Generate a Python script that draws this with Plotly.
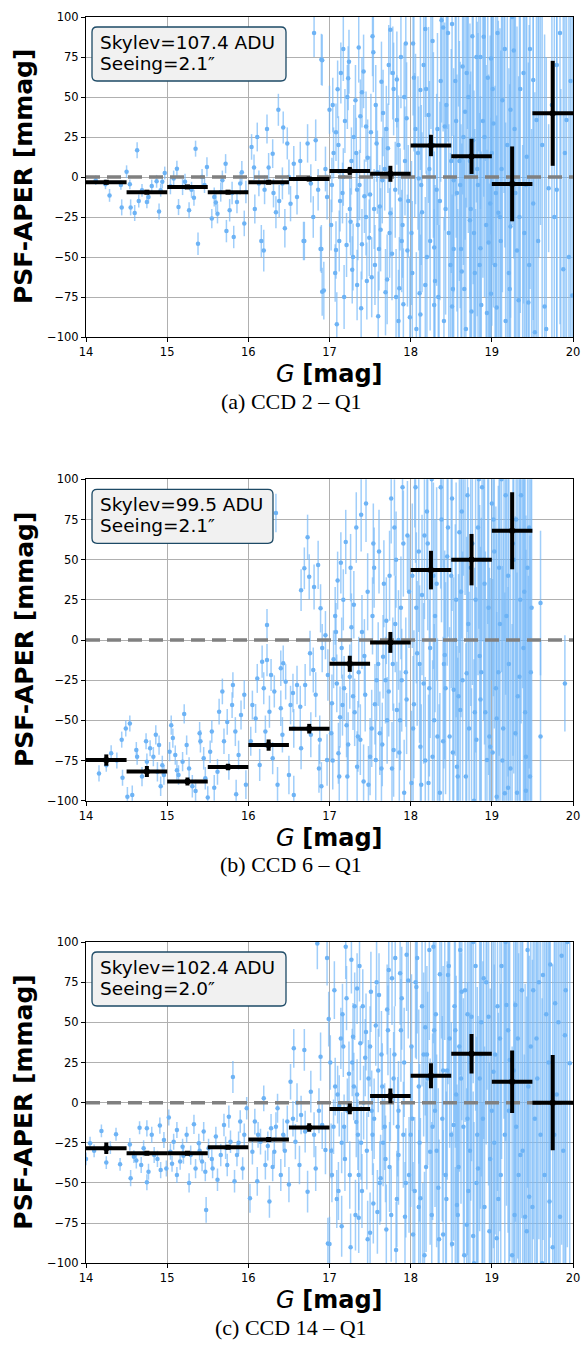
import plotly.graph_objects as go
from plotly.subplots import make_subplots

# ---------------- DATA ----------------
# Panel (a) CCD 2 - Q1 : individual stars (G mag, PSF-APER mmag, error mmag)
g_a = [
    14.24, 14.29, 14.43, 14.44, 14.50, 14.54, 14.55, 14.60, 14.63, 14.65,
    14.69, 14.75, 14.77, 14.81, 14.87, 14.90, 14.92, 14.94, 14.97, 14.12,
    15.04, 15.08, 15.12, 15.14, 15.19, 15.27, 15.33, 15.35, 15.38, 15.43,
    15.49, 15.55, 15.58, 15.62, 15.66, 15.72, 15.73, 15.77, 15.82, 15.86,
    15.90, 15.95, 15.97, 15.22, 15.30, 15.46, 15.68, 15.80, 15.92, 15.60,
    16.04, 16.07, 16.11, 16.13, 16.16, 16.19, 16.23, 16.25, 16.30, 16.31,
    16.34, 16.37, 16.42, 16.43, 16.48, 16.52, 16.56, 16.60, 16.69, 16.73,
    16.77, 16.81, 16.83, 16.89, 16.91, 16.93, 16.97, 17.00, 16.45, 16.68,
    16.90, 16.91, 16.08, 16.20, 16.38, 16.50, 16.64, 16.80, 16.95, 16.86,
    16.90, 17.17, 17.24, 17.36, 17.54, 17.75, 17.73, 17.83, 17.94, 17.10,
    17.23, 17.40, 17.64, 17.45, 17.58, 17.83, 17.95, 17.09, 17.08, 17.21,
    17.34, 17.40, 17.52, 17.60, 17.71, 17.86, 17.85, 17.91, 17.96, 17.99,
    17.17, 17.34, 17.50, 17.62, 17.75, 17.87, 17.05, 17.30, 17.45, 17.68,
    18.03, 18.18, 18.40, 18.51, 18.64, 18.86, 18.90, 18.99, 18.12, 18.22,
    18.42, 18.67, 18.77, 18.11, 18.12, 18.18, 18.29, 18.29, 18.49, 18.51,
    18.63, 18.75, 18.86, 18.96, 18.99, 18.10, 18.32, 18.53, 18.73, 18.98,
    18.05, 18.25, 18.35, 18.45, 18.58, 18.70, 18.80, 18.92, 18.60, 18.83,
    19.02, 19.23, 19.43, 19.55, 19.27, 19.51, 19.80, 19.92, 19.90, 19.06,
    19.08, 19.33, 19.31, 19.45, 19.53, 19.65, 19.70, 19.88, 19.99, 19.23,
    19.51, 19.80, 19.15, 19.38, 19.60, 19.12,
]
d_a = [
    -4.6, -11.5, -5, -19, 3.3, -4.6, -19, -22.5, 16.7, -15,
    -8.3, -15.6, -12.5, -5.6, -2.7, -21.5, -8.3, -3, 2.5, -2,
    -5.8, -1, 5.2, -18.8, -6.3, -20.8, -13, 17.7, -41.7, 0,
    6.3, -26, -12.5, -23, -9.4, 8.3, -33.8, -20.8, -37.5, -15.6,
    -4, -29, -9.4, -3, -8, -5, -2, -10, 3, -16,
    18.8, 6, 25, -4, -40, -46, 30, 6, 14.6, -10,
    -22, 42, -4, 31, 21, -16.7, 8.3, -12.5, -40, 21,
    -4, 90, 23, -45, 73, -71, -12.5, 42, -32, -40,
    -45, -71.7, -20, -8, -15, 0, 10, -25, 5, -8,
    73.5, 80, 72, 81, 78, 92, 70, 61, 83.5, 54.8,
    61.7, 53, 59.6, 31.5, 21, 35.6, 36.7, -92, -45.6, -42.5,
    -67.5, -42, -62.7, -87, -64, -69.6, -90, -79.6, -46, -87.7,
    0, -8, -11, -18.5, -22.7, -14, 15, 25, -25, 5,
    83.5, 92.5, 93.5, 95.6, 69, 75, 87.7, 74, 54.4, 38.8,
    31.5, 40.8, 23, -72.7, -86, -67.5, -80, -44, -55, -81,
    -59, -84, -44.6, -41, -73, -1, -8, -2, -27, -16.5,
    20, 130, -140, 150, -130, 160, -150, 140, 10, -5,
    33.5, 42, 12.7, 35.6, 79, 60.6, 70, 35.6, 15, -81.5,
    -22.3, -77, -46, -78.5, -97, -81, -7, -57.7, -74, -31,
    -16.5, -8, 150, -150, 140, 5,
]
e_a = [
    3, 4, 3, 5, 4, 3, 5, 5, 5, 4,
    4, 4, 4, 4, 4, 5, 4, 4, 4, 3,
    5, 5, 5, 5, 5, 5, 5, 5, 7, 5,
    6, 6, 6, 6, 6, 6, 7, 7, 7, 7,
    7, 8, 7, 5, 5, 5, 6, 7, 7, 6,
    8, 8, 9, 8, 10, 13, 9, 9, 9, 9,
    10, 10, 10, 10, 10, 11, 11, 11, 12, 12,
    12, 15, 13, 14, 16, 18, 14, 15, 12, 12,
    15, 15, 9, 9, 10, 11, 12, 13, 14, 13,
    16, 20, 20, 22, 25, 28, 25, 30, 35, 18,
    20, 22, 25, 22, 24, 28, 35, 20, 18, 20,
    22, 22, 25, 28, 28, 32, 32, 35, 35, 38,
    18, 22, 24, 26, 28, 32, 16, 20, 24, 26,
    45, 55, 65, 70, 80, 95, 100, 110, 50, 55,
    65, 80, 90, 50, 50, 55, 60, 60, 70, 70,
    80, 90, 95, 105, 110, 45, 60, 70, 85, 105,
    45, 100, 110, 120, 110, 130, 130, 130, 75, 95,
    115, 130, 150, 160, 130, 150, 180, 190, 180, 120,
    120, 140, 140, 150, 150, 170, 40, 180, 190, 130,
    150, 180, 160, 170, 170, 120,
]
# faint-star cloud of panel (a)
gf_a = [
    17.02, 17.04, 17.07, 17.11, 17.13, 17.14, 17.18, 17.19, 17.26, 17.27,
    17.29, 17.32, 17.37, 17.39, 17.42, 17.47, 17.49, 17.53, 17.56, 17.59,
    17.63, 17.66, 17.69, 17.72, 17.77, 17.79, 17.81, 17.88, 17.90, 17.93,
    18.01, 18.04, 18.07, 18.09, 18.14, 18.16, 18.20, 18.23, 18.27, 18.30,
    18.33, 18.36, 18.38, 18.41, 18.44, 18.47, 18.50, 18.52, 18.55, 18.57,
    18.59, 18.62, 18.65, 18.68, 18.71, 18.74, 18.76, 18.79, 18.82, 18.84,
    18.87, 18.89, 18.93, 18.95, 18.97, 19.00, 19.04, 19.07, 19.10, 19.13,
    19.17, 19.19, 19.21, 19.25, 19.29, 19.35, 19.40, 19.47, 19.49, 19.42,
    19.57, 19.62, 19.67, 19.74, 19.77, 19.84, 19.95, 19.58, 19.85, 19.97,
    17.03, 17.08, 17.12, 17.16, 17.22, 17.25, 17.28, 17.33, 17.35, 17.38,
    17.43, 17.46, 17.51, 17.55, 17.57, 17.61, 17.65, 17.70, 17.74, 17.78,
    17.82, 17.85, 17.89, 17.92, 17.97,
    18.02, 18.06, 18.13, 18.19, 18.24, 18.28, 18.34, 18.37, 18.43, 18.46,
    18.53, 18.56, 18.61, 18.66, 18.69, 18.73, 18.78, 18.81, 18.85, 18.91,
    18.94, 19.01, 19.05, 19.11, 19.16, 19.22, 19.28, 19.34, 19.39, 19.46,
]
df_a = [
    -30, 45, -60, 20, -15, 65, -75, 35, -28, 10,
    -50, 48, -5, -82, 66, 12, -38, 88, -55, 3,
    -33, 40, -72, 18, -48, 55, -8, 75, -30, 10,
    -35, 62, -95, 15, -22, 70, -50, 5, 85, -65,
    30, -15, 98, -90, 45, -35, 10, -70, 60, -10,
    120, -45, 25, -95, 50, -20, 88, -60, 5, 110,
    -80, 35, -30, 62, -110, 15, -55, 90, -25, 48,
    -90, 20, -60, 100, -10, 55, -35, 80, -120, -5,
    -40, 20, -95, 45, -25, 90, -50, 110, -130, 60,
    -5, 28, -40, -10, 50, -20, -58, 15, -30, 38,
    -12, -65, 28, -20, 45, -45, -2, 30, -35, 65,
    -75, 20, -40, 50, -15,
    -60, 30, -5, 55, -40, 20, -75, 60, -20, 90,
    -45, 35, -5, -70, 65, 10, -35, 75, -55, 25,
    -85, 55, -10, -40, 80, -70, 30, -25, 65, -55,
]
ef_a = [
    16, 17, 18, 18, 19, 19, 20, 20, 21, 21,
    21, 22, 22, 23, 23, 24, 24, 25, 25, 26,
    26, 27, 27, 28, 29, 29, 30, 32, 33, 34,
    45, 46, 48, 48, 50, 52, 54, 55, 58, 60,
    60, 62, 64, 65, 66, 68, 70, 70, 72, 74,
    76, 78, 80, 82, 85, 86, 88, 90, 92, 94,
    96, 98, 100, 104, 106, 108, 112, 115, 118, 120,
    124, 126, 128, 130, 134, 140, 145, 150, 150, 146,
    160, 165, 170, 175, 178, 182, 190, 160, 185, 195,
    17, 18, 19, 19, 20, 21, 21, 22, 22, 23,
    23, 24, 24, 25, 25, 26, 27, 27, 28, 29,
    30, 31, 32, 33, 35,
    45, 47, 50, 53, 56, 58, 61, 63, 66, 68,
    71, 73, 77, 81, 84, 86, 89, 91, 95, 100,
    102, 110, 113, 119, 124, 128, 133, 139, 144, 150,
]

# Panel (b) CCD 6 - Q1
g_b = [
    14.16, 14.31, 14.44, 14.45, 14.49, 14.54, 14.51, 14.57, 14.62, 14.63,
    14.69, 14.74, 14.75, 14.79, 14.83, 14.86, 14.88, 14.90, 14.92, 14.94,
    14.96, 14.25, 14.38, 15.03, 15.05, 15.07, 15.10, 15.12, 15.14, 15.19,
    15.21, 15.24, 15.27, 15.31, 15.35, 15.40, 15.41, 15.45, 15.47, 15.53,
    15.55, 15.58, 15.62, 15.64, 15.68, 15.70, 15.74, 15.76, 15.80, 15.81,
    15.84, 15.88, 15.91, 15.95, 15.97, 15.50, 15.85, 16.03, 16.05, 16.09,
    16.11, 16.14, 16.17, 16.19, 16.21, 16.23, 16.26, 16.28, 16.30, 16.32,
    16.34, 16.36, 16.40, 16.42, 16.46, 16.50, 16.52, 16.56, 16.60, 16.65,
    16.69, 16.73, 16.75, 16.81, 16.86, 16.89, 16.91, 16.95, 16.98, 16.83,
    16.77, 16.65, 16.87, 16.56, 16.23, 16.40, 16.43, 16.55, 16.64, 16.70,
    16.76, 16.80, 16.88, 16.90, 16.97, 17.03, 17.09, 17.11, 17.16, 17.21,
    17.25, 17.34, 17.38, 17.44, 17.50, 17.57, 17.62, 17.66, 17.73, 17.79,
    17.83, 17.89, 17.95, 17.10, 17.20, 17.30, 17.45, 17.55, 17.70, 17.80,
    17.90, 17.98, 17.15, 17.40, 17.60, 17.85, 18.01, 18.08, 18.12, 18.16,
    18.22, 18.27, 18.40, 18.42, 18.53, 18.57, 18.61, 18.69, 18.81, 18.86,
    18.94, 18.98, 18.10, 18.20, 18.30, 18.40, 18.50, 18.60, 18.70, 18.80,
    18.90, 18.05, 18.35, 18.65, 18.75, 18.95, 19.00, 19.06, 19.06, 19.10,
    19.16, 19.20, 19.20, 19.29, 19.30, 19.34, 19.40, 19.42, 19.42, 19.15,
    19.25, 19.38, 19.45, 19.60, 19.60, 19.90,
]
d_b = [
    -83, -70.5, -62, -85.7, -55, -52, -97.5, -96.5, -68.5, -72.6,
    -85, -63, -75.7, -67.4, -72.6, -59, -82, -65.4, -91, -78,
    -84, -78, -75, -69.5, -53, -61, -71.6, -81, -84, -75.7,
    -46, -65.4, -80, -91, -94, -58, -63, -73.6, -86, -69.5,
    -57, -92, -82, -44.6, -32, -63, -51, -79, -40.5, -28,
    -57, -71.6, -46.7, -34, -90, -98, -96, -63, -40.5, -48.8,
    -23.9, -77.8, -13.5, -30, -57, 9.3, -44.6, -21.8, -73.6, -32,
    79, -90, -42.5, -59, -26, -84, -40.5, -55, -28, 31,
    44.6, 64, 39.4, 33, 46.7, 19.7, -5, 3, -21.8, -34,
    -59, -67.4, -80, -96.5, -12.5, -17.6, -14.5, -33, -41.5, -28,
    -8.3, -18.7, -62, -91, -74.7, -39.4, -27, -70.5, -40.5, -53,
    -22.8, -78.8, -62, -34, -72.6, -74.7, -58, -10.4, -32, -68.5,
    -43.6, -25, -37, 37, 61, 22, 85, 45, 12, 70,
    95, 30, -5, 5, -15, 0, -89, -8.3, -66.4, -27,
    -89, -72.6, -63, -9.3, -31, -78.8, -43.6, -20.7, -62, -37,
    -74.7, -66.4, 55, 80, 15, 110, 40, 67, 90, 25,
    50, 130, -130, 150, -140, 140, 85, -48.8, -97.5, 10,
    -95.4, -92, 40, -58, 75, -22.8, 30, -72.6, -93.8, 150,
    -150, 140, -130, 23, -60, -27,
]
e_b = [
    5, 5, 5, 5, 5, 5, 6, 6, 5, 5,
    6, 5, 5, 5, 6, 6, 6, 6, 6, 6,
    6, 4, 5, 6, 6, 6, 6, 6, 6, 6,
    6, 6, 7, 7, 7, 7, 7, 7, 7, 7,
    7, 8, 8, 8, 8, 8, 8, 8, 8, 8,
    9, 9, 9, 9, 9, 7, 9, 9, 9, 9,
    9, 10, 10, 10, 10, 10, 10, 10, 10, 10,
    12, 11, 11, 11, 11, 12, 12, 12, 12, 13,
    13, 14, 14, 14, 15, 15, 15, 15, 16, 14,
    14, 13, 15, 12, 10, 11, 11, 12, 13, 13,
    14, 14, 15, 15, 16, 18, 18, 19, 19, 20,
    20, 22, 22, 23, 24, 25, 26, 26, 28, 29,
    30, 32, 34, 18, 20, 21, 24, 25, 27, 30,
    33, 35, 19, 23, 26, 31, 45, 45, 50, 50,
    55, 60, 65, 65, 70, 75, 75, 85, 95, 95,
    100, 105, 50, 55, 60, 65, 70, 75, 85, 95,
    100, 60, 90, 110, 110, 130, 110, 115, 115, 120,
    125, 125, 125, 135, 135, 140, 145, 150, 150, 150,
    160, 170, 170, 45, 60, 30,
]
# faint-star cloud of panel (b)
gf_b = [
    17.02, 17.05, 17.07, 17.12, 17.14, 17.18, 17.23, 17.27, 17.31, 17.33,
    17.36, 17.42, 17.47, 17.52, 17.54, 17.58, 17.64, 17.67, 17.71, 17.76,
    17.78, 17.82, 17.86, 17.88, 17.92, 17.96,
    18.02, 18.04, 18.06, 18.11, 18.14, 18.18, 18.21, 18.24, 18.26, 18.29,
    18.32, 18.36, 18.38, 18.43, 18.45, 18.48, 18.51, 18.55, 18.58, 18.62,
    18.64, 18.67, 18.72, 18.74, 18.78, 18.83, 18.85, 18.88, 18.92, 18.96,
    19.01, 19.03, 19.08, 19.12, 19.14, 19.18, 19.23, 19.26, 19.32, 19.36,
    19.39, 19.44, 19.47, 19.49,
    17.04, 17.08, 17.13, 17.17, 17.22, 17.26, 17.29, 17.35, 17.39, 17.43,
    17.48, 17.53, 17.56, 17.61, 17.65, 17.69, 17.74, 17.77, 17.81, 17.87,
    17.91, 17.94,
    18.03, 18.07, 18.13, 18.17, 18.23, 18.28, 18.33, 18.37, 18.41, 18.46,
    18.52, 18.56, 18.59, 18.63, 18.68, 18.71, 18.76, 18.79, 18.84, 18.87,
    18.91, 18.97, 19.02, 19.05, 19.09, 19.13, 19.17, 19.21, 19.27, 19.31,
    19.35, 19.41, 19.46, 19.48,
]
df_b = [
    -58, -12, 15, -85, 48, -30, -65, 8, -45, 70,
    -20, -88, 30, -55, 60, -25, -80, 35, -50, 88,
    -15, 50, -70, 20, -95, 65,
    40, -40, 95, -15, 28, -75, 60, -5, 100, -50,
    35, -95, 75, -30, 52, -60, 88, 0, -85, 30,
    -25, 110, -55, 45, -100, 70, -10, 95, -45, 20,
    -70, 55, -20, 100, -55, 15, -80, 60, -35, 90,
    -5, 45, -85, 20,
    -75, 5, -48, 25, -85, 45, -35, -60, 78, -10,
    -90, 15, -40, 55, -65, -25, 40, -80, 10, -50,
    60, -20,
    -55, 20, -90, 65, -30, 40, -60, 95, -15, 70,
    -70, 25, -35, 80, -85, 10, 60, -45, 100, -20,
    35, -60, 75, -30, 45, -75, 90, -15, 50, -95,
    25, -45, 70, -20,
]
ef_b = [
    18, 18, 18, 19, 19, 20, 20, 21, 21, 22,
    22, 23, 24, 24, 25, 25, 26, 27, 27, 28,
    29, 30, 31, 32, 33, 34,
    45, 46, 47, 49, 50, 52, 54, 56, 58, 60,
    60, 62, 64, 66, 68, 68, 70, 72, 74, 78,
    80, 82, 85, 86, 88, 92, 94, 96, 100, 104,
    108, 110, 116, 120, 122, 126, 130, 132, 138, 142,
    144, 148, 150, 150,
    18, 18, 19, 19, 20, 21, 21, 22, 23, 23,
    24, 24, 25, 26, 26, 27, 28, 29, 30, 31,
    33, 34,
    45, 47, 50, 52, 55, 58, 61, 63, 65, 68,
    71, 73, 76, 79, 83, 85, 88, 90, 93, 96,
    100, 105, 110, 113, 117, 121, 124, 128, 133, 137,
    141, 146, 150, 150,
]

# Panel (c) CCD 14 - Q1
g_c = [
    14.00, 14.05, 14.19, 14.25, 14.37, 14.42, 14.54, 14.55, 14.59, 14.66,
    14.68, 14.71, 14.75, 14.75, 14.77, 14.81, 14.84, 14.91, 14.92, 14.96,
    14.99, 14.10, 14.30, 14.62, 14.88, 15.02, 15.04, 15.08, 15.12, 15.12,
    15.16, 15.19, 15.24, 15.27, 15.29, 15.33, 15.35, 15.39, 15.43, 15.45,
    15.48, 15.51, 15.56, 15.60, 15.62, 15.66, 15.70, 15.74, 15.76, 15.78,
    15.81, 15.83, 15.86, 15.90, 15.93, 15.95, 15.98, 15.20, 15.40, 15.55,
    15.72, 15.88, 15.06, 15.47, 16.02, 16.05, 16.08, 16.11, 16.15, 16.19,
    16.21, 16.26, 16.28, 16.32, 16.36, 16.40, 16.43, 16.48, 16.50, 16.52,
    16.56, 16.58, 16.63, 16.65, 16.69, 16.73, 16.77, 16.81, 16.83, 16.85,
    16.89, 16.91, 16.97, 16.98, 16.95, 16.12, 16.24, 16.34, 16.45, 16.60,
    16.70, 16.87, 16.30, 16.55, 16.99, 17.00, 17.15, 17.17, 17.20, 17.27,
    17.29, 17.34, 17.36, 17.36, 17.38, 17.45, 17.50, 17.51, 17.54, 17.61,
    17.63, 17.70, 17.73, 17.77, 17.81, 17.82, 17.85, 17.87, 17.93, 17.97,
    17.05, 17.10, 17.15, 17.22, 17.30, 17.35, 17.42, 17.48, 17.55, 17.60,
    17.68, 17.75, 17.85, 17.92, 18.03, 18.07, 18.12, 18.18, 18.24, 18.28,
    18.34, 18.40, 18.46, 18.53, 18.57, 18.63, 18.69, 18.75, 18.77, 18.83,
    18.90, 18.96, 18.00, 18.10, 18.20, 18.30, 18.45, 18.60, 18.70, 18.85,
    18.15, 18.38, 18.55, 18.72, 18.88, 19.02, 19.06, 19.18, 19.22, 19.29,
    19.35, 19.41, 19.46, 19.51, 19.55, 19.63, 19.71, 19.72, 19.78, 19.84,
    19.86, 19.90, 19.96, 19.00, 19.10, 19.30, 19.45, 19.60, 19.80, 19.15,
    19.40, 19.68,
]
d_c = [
    -35, -25.3, -17.6, -37.3, -19.7, -38.4, -26, -47, -33.6, -15.6,
    -38.8, -28.4, -16, -49.6, -43, -20, -32.6, -14.3, -42, -23.2,
    -41, -30, -28, -36, -35, -9.3, -30.5, -24.3, -17, -45,
    -36.7, -27.4, -20, -50, -32.6, -13.5, -41, -25.3, -36.7, -18,
    -66.8, -28.4, -41, -21, -48, -32.6, -13.9, -38.8, -8.7, -24.3,
    16, -49, -32.6, -11.8, -41, -20, -3.5, -33, -30, -35,
    -28, -25, -38, -43, -59.5, -30.5, -11.8, -49, -24.3, 2.7,
    -38.8, -61.6, -16, -30.5, -3.5, -45, -20, -11.8, -51, 13,
    33.8, -24.3, -38.8, -7.7, 32.8, -55.4, 6.8, -20, -41, 99,
    28.6, -13.9, 90, -87.6, -29.5, -20, -27, -15, -30, 0,
    -18, -5, -40, -10, 52, -88, -77, 35, 97, 89,
    41, 71, -45, -71.6, 37, 44, -81, 69, -62.7, 67,
    -47, -79, 82.6, 77.4, 90, -91.7, -32.6, 80.5, -71, 76,
    -15, 5, -25, -5, 10, -20, 0, 15, -10, 20,
    -15, 5, -5, 25, -82, 72, -59.5, 47, -30.5, 97,
    -53, -82, 79.5, -13.9, -63.7, 69, -76, 53.5, -83, -41,
    77.4, 53.5, -20, 10, 30, -5, 20, 35, -10, 15,
    -140, 150, -150, 140, -130, 19.3, -84.4, 60.8, 26.5, 60.8,
    -32.6, -71, -58.5, 70, 40, 79.5, -61.6, 86, 61.8, -71,
    91.5, 42, 24.5, -5, 40, -15, 10, -20, 5, 150,
    -140, 130,
]
e_c = [
    4, 4, 4, 4, 4, 4, 4, 5, 4, 4,
    5, 5, 5, 5, 5, 5, 5, 5, 5, 5,
    5, 4, 4, 5, 5, 5, 5, 5, 5, 5,
    5, 5, 5, 6, 6, 6, 6, 6, 6, 6,
    8, 6, 6, 6, 7, 7, 7, 7, 7, 7,
    10, 7, 7, 7, 7, 7, 7, 5, 6, 6,
    7, 7, 5, 6, 9, 8, 8, 9, 8, 8,
    9, 10, 9, 9, 9, 10, 10, 10, 11, 11,
    12, 11, 12, 12, 13, 13, 13, 14, 14, 16,
    15, 15, 17, 16, 15, 8, 9, 9, 10, 12,
    13, 14, 9, 11, 17, 17, 19, 19, 20, 21,
    21, 22, 22, 22, 23, 24, 25, 25, 25, 26,
    27, 28, 28, 29, 30, 30, 31, 32, 34, 36,
    17, 18, 19, 20, 21, 22, 23, 24, 25, 26,
    27, 29, 31, 34, 45, 45, 50, 55, 58, 60,
    62, 65, 68, 72, 75, 80, 85, 90, 90, 95,
    100, 105, 45, 48, 55, 60, 68, 78, 85, 95,
    90, 110, 110, 120, 130, 110, 115, 125, 125, 135,
    140, 145, 150, 155, 160, 165, 170, 170, 175, 180,
    180, 185, 190, 110, 120, 135, 150, 165, 180, 160,
    170, 180,
]
# faint-star cloud of panel (c)
gf_c = [
    17.01, 17.03, 17.06, 17.09, 17.12, 17.16, 17.19, 17.24, 17.26, 17.31,
    17.33, 17.37, 17.40, 17.44, 17.46, 17.52, 17.57, 17.59, 17.64, 17.66,
    17.71, 17.74, 17.79, 17.83, 17.88, 17.91, 17.95, 17.98,
    18.01, 18.05, 18.08, 18.11, 18.14, 18.17, 18.21, 18.26, 18.29, 18.32,
    18.36, 18.39, 18.42, 18.44, 18.48, 18.51, 18.54, 18.56, 18.59, 18.61,
    18.65, 18.67, 18.71, 18.74, 18.78, 18.80, 18.82, 18.87, 18.91, 18.94,
    18.98, 19.04, 19.08, 19.12, 19.16, 19.20, 19.25, 19.27, 19.33, 19.37,
    19.43, 19.48, 19.53, 19.58, 19.65, 19.70, 19.75, 19.82, 19.88, 19.93,
    17.02, 17.07, 17.11, 17.14, 17.18, 17.21, 17.25, 17.28, 17.32, 17.34,
    17.39, 17.41, 17.47, 17.50, 17.53, 17.58, 17.62, 17.65, 17.69, 17.72,
    17.76, 17.80, 17.84, 17.89, 17.94,
    18.02, 18.06, 18.10, 18.16, 18.19, 18.23, 18.27, 18.31, 18.35, 18.40,
    18.43, 18.47, 18.50, 18.55, 18.58, 18.62, 18.66, 18.70, 18.73, 18.77,
    18.81, 18.86, 18.89, 18.93, 18.97, 19.03, 19.07, 19.11, 19.17, 19.21,
    19.28, 19.32, 19.38, 19.44, 19.50, 19.56, 19.62, 19.67, 19.77, 19.91,
]
df_c = [
    25, -45, 70, -60, -2, 55, -35, 18, -90, 60,
    -12, 85, -55, 28, -30, -5, 48, -68, 30, -25,
    58, -40, 15, -60, 45, -20, 92, -45,
    35, -55, 90, -25, 60, -95, 15, -70, 45, -30,
    80, -10, 105, -60, 40, -88, 60, 5, -40, 95,
    -15, 70, -55, 25, -100, 85, -20, 50, -65, 110,
    -35, 30, -60, 85, -20, 45, -95, 20, -45, 70,
    -80, 35, -10, 75, -45, 25, -90, 50, -30, 100,
    -30, 10, -55, 40, -15, 65, -45, 25, -70, 5,
    -25, 60, -85, 35, -20, 75, -50, 10, -35, 45,
    -70, 30, -15, 65, -50,
    -10, 75, -65, 30, -40, 95, -15, 55, -85, 20,
    -45, 85, -20, 45, -70, 15, -95, 55, -30, 100,
    -50, 30, -10, 75, -80, -25, 60, -45, 100, -5,
    -70, 40, -30, 95, -65, 15, -100, 55, -20, 70,
]
ef_c = [
    17, 17, 18, 18, 19, 19, 20, 20, 21, 21,
    22, 22, 23, 24, 24, 25, 25, 26, 27, 27,
    28, 28, 29, 30, 32, 33, 35, 36,
    45, 46, 47, 49, 50, 52, 54, 58, 60, 60,
    62, 64, 66, 67, 68, 70, 72, 74, 76, 78,
    80, 82, 85, 86, 88, 90, 92, 96, 100, 102,
    106, 112, 116, 120, 124, 126, 130, 132, 138, 142,
    146, 150, 156, 160, 168, 172, 176, 180, 186, 190,
    17, 18, 18, 19, 20, 20, 21, 21, 22, 22,
    23, 23, 24, 25, 25, 26, 26, 27, 27, 28,
    29, 30, 31, 32, 34,
    45, 47, 48, 51, 53, 56, 58, 60, 62, 65,
    66, 68, 70, 73, 75, 78, 81, 84, 86, 88,
    91, 96, 98, 101, 105, 111, 115, 119, 124, 127,
    133, 137, 143, 148, 154, 160, 165, 170, 178, 188,
]

# Binned medians (0.5 mag bins)
bin_g = [14.25, 14.75, 15.25, 15.75, 16.25, 16.75, 17.25, 17.75, 18.25, 18.75, 19.25, 19.75]
bin_halfwidth = 0.25
bin_a = [-3.3, -9.5, -6.2, -9.5, -3.3, -1.3, 3.8, 2.0, 19.7, 12.9, -4.3, 39.8]
binerr_a = [1.2, 1.0, 0.8, 0.8, 0.9, 1.0, 2.5, 5.0, 6.7, 11.0, 23.4, 32.8]
bin_b = [-74.7, -81.8, -88.0, -79.0, -65.4, -55.2, -14.8, -1.5, 43.5, 50.0, 68.0]
binerr_b = [3.5, 3.4, 2.5, 2.0, 3.5, 3.0, 5.0, 6.5, 12.0, 16.0, 24.0]
bin_c = [-28.4, -31.5, -31.5, -27.8, -23.0, -15.5, -3.9, 4.2, 16.8, 30.5, 13.0, 0.0]
binerr_c = [3.6, 1.0, 0.8, 0.8, 0.8, 2.6, 3.3, 4.6, 7.8, 12.3, 19.4, 29.6]

skylev = ["107.4", "99.5", "102.4"]
seeing = ["2.1", "2.1", "2.0"]
captions = ["(a) CCD 2 \u2013 Q1", "(b) CCD 6 \u2013 Q1", "(c) CCD 14 \u2013 Q1"]

# ---------------- FIGURE ----------------
W, H = 584, 1358
X0, X1 = 86, 573
tops = [17, 479.3, 942]
bots = [337, 800.7, 1263.3]
box_right = [286, 273, 286]

BLUE = "#6db3f5"
EBLUE = "rgba(120,185,248,0.7)"

def fx(px):
    return px / W

def fy(py):
    return 1 - py / H

panels = [
    (g_a + gf_a, d_a + df_a, e_a + ef_a, bin_a, binerr_a),
    (g_b + gf_b, d_b + df_b, e_b + ef_b, bin_b, binerr_b),
    (g_c + gf_c, d_c + df_c, e_c + ef_c, bin_c, binerr_c),
]

fig = make_subplots(rows=3, cols=1)

for i, (g, d, e, bm, be) in enumerate(panels):
    r = i + 1
    fig.add_trace(go.Scatter(
        x=g, y=d, mode="markers",
        marker=dict(color=BLUE, size=4.5, line=dict(width=0)),
        error_y=dict(type="data", array=e, visible=True, color=EBLUE, thickness=1.5, width=0),
        showlegend=False, hoverinfo="skip"), row=r, col=1)
    fig.add_trace(go.Scatter(
        x=[14, 20], y=[0, 0], mode="lines",
        line=dict(color="#808080", width=3.5, dash="14px,7px"),
        showlegend=False, hoverinfo="skip"), row=r, col=1)
    bx = bin_g[:len(bm)]
    fig.add_trace(go.Scatter(
        x=bx, y=bm, mode="markers",
        marker=dict(color="black", size=5, symbol="square"),
        error_x=dict(type="constant", value=bin_halfwidth, color="black", thickness=4, width=0),
        error_y=dict(type="data", array=be, visible=True, color="black", thickness=4, width=0),
        showlegend=False, hoverinfo="skip"), row=r, col=1)

axis_common = dict(
    showgrid=True, gridcolor="#b0b0b0", gridwidth=1,
    showline=True, mirror=True, linecolor="black", linewidth=1,
    ticks="outside", ticklen=4, tickwidth=1, tickcolor="black",
    tickfont=dict(family="DejaVu Sans", size=11.5, color="black"),
    zeroline=False, automargin=False,
)

for i in range(3):
    xa = "xaxis" if i == 0 else f"xaxis{i+1}"
    ya = "yaxis" if i == 0 else f"yaxis{i+1}"
    fig.layout[xa].update(range=[14, 20], tick0=14, dtick=1,
                          domain=[fx(X0), fx(X1)], **axis_common)
    fig.layout[ya].update(range=[-100, 100], tick0=-100, dtick=25,
                          domain=[fy(bots[i]), fy(tops[i])], **axis_common)

    top, bot = tops[i], bots[i]
    # rounded info box
    x0, x1 = 92, box_right[i]
    y0, y1 = top + 10, top + 64
    rr = 5
    path = (
        f"M {fx(x0+rr)},{fy(y0)} L {fx(x1-rr)},{fy(y0)} Q {fx(x1)},{fy(y0)} {fx(x1)},{fy(y0+rr)} "
        f"L {fx(x1)},{fy(y1-rr)} Q {fx(x1)},{fy(y1)} {fx(x1-rr)},{fy(y1)} "
        f"L {fx(x0+rr)},{fy(y1)} Q {fx(x0)},{fy(y1)} {fx(x0)},{fy(y1-rr)} "
        f"L {fx(x0)},{fy(y0+rr)} Q {fx(x0)},{fy(y0)} {fx(x0+rr)},{fy(y0)} Z"
    )
    fig.add_shape(type="path", path=path, xref="paper", yref="paper",
                  fillcolor="#f1f1f1", line=dict(color="#1d4a66", width=1.3), layer="above")
    fig.add_annotation(xref="paper", yref="paper", x=fx(98), y=fy(top + 25),
                       xanchor="left", yanchor="middle", showarrow=False,
                       text=f"Skylev={skylev[i]} ADU",
                       font=dict(family="DejaVu Sans", size=18.5, color="black"))
    fig.add_annotation(xref="paper", yref="paper", x=fx(98), y=fy(top + 46.5),
                       xanchor="left", yanchor="middle", showarrow=False,
                       text=f"Seeing={seeing[i]}\u2033",
                       font=dict(family="DejaVu Sans", size=18.5, color="black"))
    # axis titles
    fig.add_annotation(xref="paper", yref="paper", x=fx(24), y=fy((top + bot) / 2),
                       xanchor="center", yanchor="middle", showarrow=False, textangle=-90,
                       text="<b>PSF-APER [mmag]</b>",
                       font=dict(family="DejaVu Sans", size=25, color="black"))
    fig.add_annotation(xref="paper", yref="paper", x=fx((X0 + X1) / 2), y=fy(bot + 37),
                       xanchor="center", yanchor="middle", showarrow=False,
                       text="<i>G</i> <b>[mag]</b>",
                       font=dict(family="DejaVu Sans", size=24, color="black"))
    # caption
    fig.add_annotation(xref="paper", yref="paper", x=fx(291), y=fy(bot + 64),
                       xanchor="center", yanchor="middle", showarrow=False,
                       text=captions[i],
                       font=dict(family="Liberation Serif", size=22, color="black"))

fig.update_layout(
    width=W, height=H,
    margin=dict(l=0, r=0, t=0, b=0, autoexpand=False),
    paper_bgcolor="white", plot_bgcolor="white",
    showlegend=False,
)

fig.write_html(
    "out.html",
    config={"displayModeBar": False},
    post_script="document.body.style.margin='0px';document.body.style.overflow='hidden';",
)
